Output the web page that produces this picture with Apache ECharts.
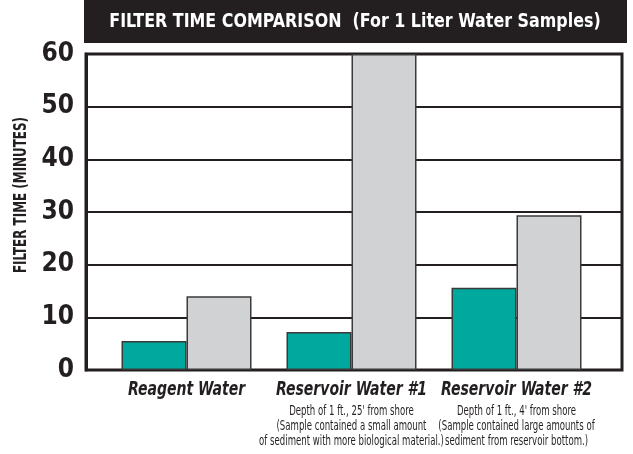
<!DOCTYPE html>
<html>
<head>
<meta charset="utf-8">
<script src="https://cdn.jsdelivr.net/npm/echarts@6/dist/echarts.min.js"></script>
<style>
  html, body { margin: 0; padding: 0; background: #fff; }
  #chart { width: 633px; height: 454px; }
</style>
</head>
<body>
<div id="chart"></div>
<script>
// chart data
var categories = ["Reagent Water", "Reservoir Water #1", "Reservoir Water #2"];
var notes = [
    [],
    ["Depth of 1 ft., 25' from shore", "(Sample contained a small amount", "of sediment with more biological material.)"],
    ["Depth of 1 ft., 4' from shore", "(Sample contained large amounts of", "sediment from reservoir bottom.)"]
];
var tealValues = [5.5, 7.2, 15.6];
var grayValues = [14.0, 60, 29.4];
var yTicks = [0, 10, 20, 30, 40, 50, 60];

var titleText = "FILTER TIME COMPARISON  (For 1 Liter Water Samples)";
var yName = "FILTER TIME (MINUTES)";

// no condensed font installed, so text is squeezed with scaleX
var narrow = "'DejaVu Sans Condensed', 'DejaVu Sans', sans-serif";
var ink = "#231f20";

var chart = echarts.init(document.getElementById("chart"), null, { renderer: "canvas" });

var baseGraphic = [
    {
        type: "rect",
        shape: { x: 84, y: 0, width: 543, height: 43 },
        style: { fill: ink }
    },
    {
        type: "text",
        x: 355,
        y: 22,
        scaleX: 0.93,
        style: {
            text: titleText,
            fill: "#fff",
            font: "bold 19px " + narrow,
            align: "center",
            verticalAlign: "middle"
        }
    },
    {
        type: "text",
        x: 22,
        y: 195,
        rotation: Math.PI / 2,
        scaleX: 0.78,
        style: {
            text: yName,
            fill: ink,
            font: "bold 17px " + narrow,
            align: "center",
            verticalAlign: "middle"
        }
    }
];

var option = {
    animation: false,
    backgroundColor: "#fff",
    graphic: baseGraphic,
    grid: [
        { left: 86, right: 11, top: 54, bottom: 84, show: true, borderColor: ink, borderWidth: 3, backgroundColor: "transparent" },
        { left: 104, right: 34, top: 54, bottom: 84 }
    ],
    xAxis: [
        { type: "category", gridIndex: 0, data: categories, show: false },
        {
            type: "category",
            gridIndex: 1,
            data: categories,
            axisLine: { show: false },
            axisTick: { show: false },
            axisLabel: { show: false }
        }
    ],
    yAxis: [
        {
            type: "value",
            gridIndex: 0,
            min: 0,
            max: 60,
            interval: 10,
            axisLine: { show: true, lineStyle: { color: ink, width: 3 } },
            axisTick: { show: false },
            axisLabel: {
                margin: 12,
                fontFamily: narrow,
                fontWeight: "bold",
                fontSize: 26,
                color: ink,
                formatter: function (v) { return yTicks.indexOf(v) >= 0 ? String(v) : ""; }
            },
            splitLine: { show: true, lineStyle: { color: ink, width: 2 } }
        },
        { type: "value", gridIndex: 1, min: 0, max: 60, interval: 10, show: false, splitLine: { show: false } }
    ],
    series: [
        {
            type: "bar",
            xAxisIndex: 1,
            yAxisIndex: 1,
            data: tealValues,
            barWidth: 65,
            barGap: "0%",
            itemStyle: { color: "#00a89d", borderColor: "#3a3a3a", borderWidth: 1.5 },
            z: 3
        },
        {
            type: "bar",
            xAxisIndex: 1,
            yAxisIndex: 1,
            data: grayValues,
            barWidth: 65,
            barGap: "0%",
            itemStyle: { color: "#d1d2d4", borderColor: "#3a3a3a", borderWidth: 1.5 },
            z: 3
        }
    ]
};

chart.setOption(option);

// category labels, placed from the category axis
var labelGraphic = baseGraphic.slice();
var baseY = chart.convertToPixel({ yAxisIndex: 1 }, 0);
categories.forEach(function (cat, i) {
    var cx = chart.convertToPixel({ xAxisIndex: 1 }, i);
    labelGraphic.push({
        type: "text",
        x: cx,
        y: baseY + 20,
        scaleX: 0.78,
        style: {
            text: cat,
            fill: ink,
            font: "italic bold 20px " + narrow,
            align: "center",
            verticalAlign: "middle"
        }
    });
    notes[i].forEach(function (line, j) {
        labelGraphic.push({
            type: "text",
            x: cx,
            y: baseY + 41 + j * 15,
            scaleX: 0.68,
            style: {
                text: line,
                fill: ink,
                font: "14px " + narrow,
                align: "center",
                verticalAlign: "middle"
            }
        });
    });
});
chart.setOption({ graphic: labelGraphic });
</script>
</body>
</html>
